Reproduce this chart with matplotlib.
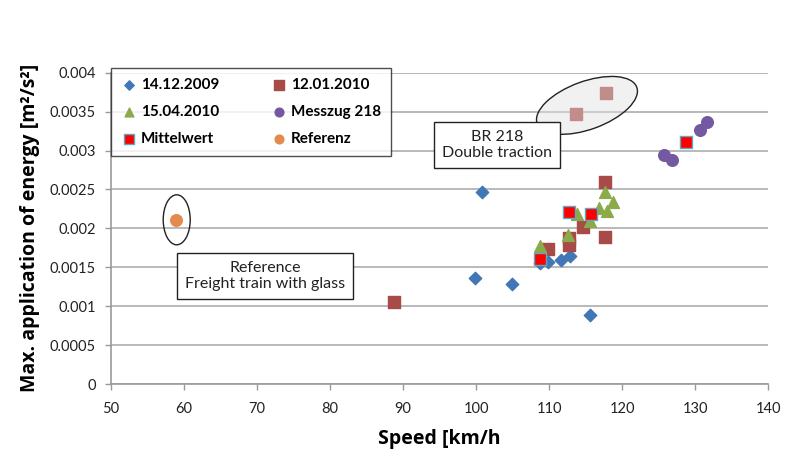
import numpy as np
import matplotlib
matplotlib.use("Agg")
import matplotlib.pyplot as plt
from matplotlib.patches import Ellipse
from matplotlib.transforms import ScaledTranslation

plt.rcParams["font.family"] = ["Lato", "DejaVu Sans"]

# 14.12.2009
x_1412 = [99.9, 100.8, 104.9, 108.8, 109.9, 111.7, 112.9, 115.6]
y_1412 = [0.00136, 0.00247, 0.00129, 0.00155, 0.00157, 0.00159, 0.00164, 0.00089]
# 12.01.2010
x_1201 = [88.8, 109.9, 112.8, 112.8, 114.7, 117.7, 117.7, 113.7, 117.8]
y_1201 = [0.00106, 0.00174, 0.00178, 0.00188, 0.00202, 0.00189, 0.0026, 0.00347, 0.00374]
# 15.04.2010
x_1504 = [108.8, 112.6, 113.8, 115.6, 116.8, 117.9, 117.7, 118.8]
y_1504 = [0.00177, 0.00192, 0.00219, 0.00209, 0.00226, 0.00222, 0.00247, 0.00234]
# Messzug 218
x_mz = [125.7, 126.8, 130.7, 131.6]
y_mz = [0.00294, 0.00288, 0.00327, 0.00337]
# Mittelwert
x_mw = [108.8, 112.7, 115.7, 128.7]
y_mw = [0.0016, 0.00221, 0.00219, 0.00311]
# Referenz
x_ref = [58.9]
y_ref = [0.00211]

xticks = [50, 60, 70, 80, 90, 100, 110, 120, 130, 140]
yticks = [0, 0.0005, 0.001, 0.0015, 0.002, 0.0025, 0.003, 0.0035, 0.004]
ytick_labels = ["0", "0.0005", "0.001", "0.0015", "0.002", "0.0025", "0.003", "0.0035", "0.004"]

fig = plt.figure(figsize=(7.89, 4.63), dpi=100)
ax = fig.add_axes([0.1407, 0.1706, 0.8327, 0.6724])

ax.scatter(x_1412, y_1412, marker="D", s=40, color="#4277B7", zorder=3.0, label="14.12.2009")
ax.scatter(x_1504, y_1504, marker="^", s=72, color="#8BAA4A", zorder=3.2, label="15.04.2010")
ax.scatter(x_mw, y_mw, marker="s", s=78, color="#FF0000", edgecolors="#5BA9C4", linewidths=1.0,
           zorder=5, label="Mittelwert")
ax.scatter(x_1201, y_1201, marker="s", s=78, color="#A84A47", zorder=3.1, label="12.01.2010")
ax.scatter(x_mz, y_mz, marker="o", s=70, color="#7458A0", zorder=3, label="Messzug 218")
ax.scatter(x_ref, y_ref, marker="o", s=70, color="#E38B4C", zorder=3, label="Referenz")

ax.set_xlim(50, 140)
ax.set_ylim(0, 0.004)
ax.set_xticks(xticks)
ax.set_yticks(yticks)
ax.set_yticklabels(ytick_labels)
ax.tick_params(axis="both", labelsize=10.5, colors="#222222", length=4, width=1)
ax.tick_params(axis="both", color="#999999")
ax.tick_params(axis="x", pad=9)
ax.tick_params(axis="y", pad=7)
ax.yaxis.grid(True, color="#B3B3B3", linewidth=1.3, zorder=0)
ax.set_axisbelow(True)
for sp in ["top", "right"]:
    ax.spines[sp].set_visible(False)
for sp in ["left", "bottom"]:
    ax.spines[sp].set_color("#999999")
    ax.spines[sp].set_linewidth(1.2)

lab_font = {"family": ["Open Sans", "DejaVu Sans"], "size": 14, "weight": "bold"}
ax.set_xlabel("Speed [km/h", fontdict=lab_font, labelpad=9)
ax.set_ylabel("Max. application of energy [m\u00b2/s\u00b2]", fontdict=lab_font, labelpad=7)

# ellipses
ell1 = Ellipse((0, 0), 1.06, 0.48, angle=20, facecolor=(0.88, 0.88, 0.88, 0.45),
               edgecolor="#222222", linewidth=1.0, zorder=6,
               transform=fig.dpi_scale_trans + ScaledTranslation(115.2, 0.00358, ax.transData))
ax.add_patch(ell1)
ell2 = Ellipse((0, 0), 0.27, 0.50, facecolor="none", edgecolor="#222222", linewidth=1.0, zorder=6,
               transform=fig.dpi_scale_trans + ScaledTranslation(59.0, 0.00211, ax.transData))
ax.add_patch(ell2)

box = dict(boxstyle="square,pad=0.5", facecolor="white", edgecolor="#222222", linewidth=1.0)
ax.text(102.9, 0.00307, "BR 218\nDouble traction", ha="center", va="center", fontsize=11.5,
        color="#222222", bbox=box, zorder=7, linespacing=1.2)
ax.text(71.1, 0.00139, "Reference\nFreight train with glass", ha="center", va="center", fontsize=11.5,
        color="#222222", bbox=box, zorder=7, linespacing=1.2)

leg = ax.legend(ncol=2, loc="upper left", bbox_to_anchor=(0.0, 1.015), borderaxespad=0.0,
                frameon=True, fancybox=False,
                edgecolor="#222222", prop={"weight": "bold", "size": 11}, handletextpad=0.3,
                columnspacing=3.4, labelspacing=0.85, borderpad=0.65, handlelength=1.0,
                markerscale=0.75)
leg.get_frame().set_linewidth(1.0)
leg.set_zorder(8)

fig.savefig("out.png", dpi=100)
